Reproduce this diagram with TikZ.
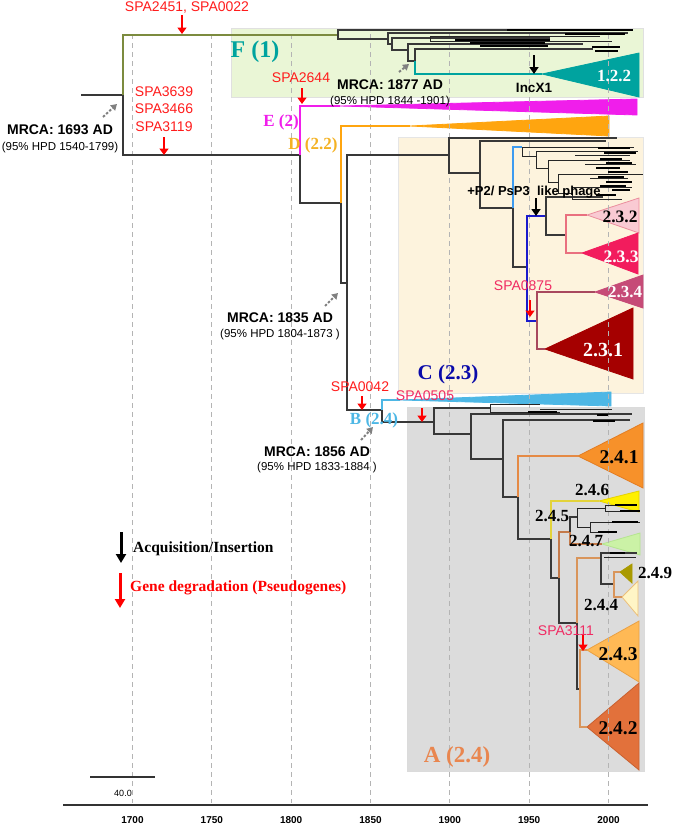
\documentclass[tikz,border=0pt]{standalone}
\usepackage{fontspec}
\setmainfont{Liberation Serif}
\setsansfont{Liberation Sans}
\usetikzlibrary{arrows.meta,positioning}

\definecolor{boxgreen}{HTML}{EAF6D6}
\definecolor{boxcream}{HTML}{FDF3DD}
\definecolor{boxgrey}{HTML}{DCDCDC}
\definecolor{fteal}{HTML}{00A39F}
\definecolor{emag}{HTML}{F01EEB}
\definecolor{dgold}{HTML}{F4B223}
\definecolor{dorange}{HTML}{FFA50F}
\definecolor{cblue}{HTML}{0A0AAA}
\definecolor{bblue}{HTML}{4DB7E5}
\definecolor{aorange}{HTML}{E9864F}
\definecolor{spared}{HTML}{FF1C1C}
\definecolor{spapink}{HTML}{F02A62}
\definecolor{olivegreen}{HTML}{7C8B3F}
\definecolor{ltblue}{HTML}{3D9BF0}
\definecolor{dkblue}{HTML}{1A1ACC}
\definecolor{pinkline}{HTML}{E9707F}
\definecolor{maroonline}{HTML}{A8485E}
\definecolor{tanline}{HTML}{D9955B}
\definecolor{yelline}{HTML}{E3D33A}
\definecolor{brownline}{HTML}{C47A4A}
\definecolor{orangeline}{HTML}{E58A45}
\definecolor{gridgrey}{HTML}{B4B4B4}
\definecolor{tpinklt}{HTML}{F9CAD3}
\definecolor{tpinkltd}{HTML}{EB8E9E}
\definecolor{tpink}{HTML}{F21C5D}
\definecolor{trose}{HTML}{C64B77}
\definecolor{tdred}{HTML}{A50000}
\definecolor{torange}{HTML}{F7912A}
\definecolor{torangeb}{HTML}{E37C22}
\definecolor{tyellow}{HTML}{FFF000}
\definecolor{tyellowb}{HTML}{E6D200}
\definecolor{tgreen}{HTML}{CBF2A6}
\definecolor{tgreenb}{HTML}{B5E590}
\definecolor{tolive}{HTML}{A99A00}
\definecolor{tcream}{HTML}{FFF5C6}
\definecolor{tcreamb}{HTML}{EBBF7C}
\definecolor{tlorange}{HTML}{FFB955}
\definecolor{tlorangeb}{HTML}{E9A043}
\definecolor{tburnt}{HTML}{E2713B}
\definecolor{tburntb}{HTML}{C9602F}

\newcommand{\fsz}[1]{\fontsize{#1}{#1}\selectfont}

\begin{document}
\begin{tikzpicture}[x=1pt,y=-1pt,
  branch/.style={line width=1.1pt,draw=black!78},
  olivebranch/.style={branch,draw=olivegreen},
  ebranch/.style={branch,draw=emag},
  dbranch/.style={branch,draw=dorange},
  bbranch/.style={branch,draw=bblue},
  ltbranch/.style={branch,draw=ltblue},
  dkbranch/.style={branch,draw=dkblue},
  pinkbranch/.style={branch,draw=pinkline},
  maroonbranch/.style={branch,draw=maroonline},
  tealbranch/.style={branch,draw=fteal},
  orangebranch/.style={branch,draw=orangeline},
  yellowbranch/.style={branch,draw=yelline},
  brownbranch/.style={branch,draw=brownline},
  tanbranch/.style={branch,draw=tanline},
  twig/.style={line width=0.8pt,draw=black!85},
  cluster/.style={line width=2.2pt,draw=black},
  cladebox/.style={line width=0.8pt},
  cladetri/.style={line width=0.8pt},
  gridline/.style={draw=gridgrey,line width=0.9pt,dash pattern=on 5pt off 4pt},
  axisline/.style={draw=black!80,line width=1.3pt},
  redarrow/.style={draw=red,line width=2.6pt,-{Triangle[width=9pt,length=6.5pt]}},
  blackarrow/.style={draw=black,line width=2.4pt,-{Triangle[width=9pt,length=7pt]}},
  mrcaarrow/.style={draw=gray,line width=2pt,dash pattern=on 2.5pt off 1.8pt,-{Triangle[width=7pt,length=6pt]}},
  txt/.style={inner sep=0pt},
  spalabel/.style={txt,font=\sffamily\fsz{14},text=spared},
  spapinklabel/.style={spalabel,text=spapink},
  mrcatext/.style={txt,font=\sffamily\bfseries\fsz{14}},
  hpdtext/.style={txt,font=\sffamily\fsz{11.5}},
  groupname/.style={txt,font=\bfseries\fsz{#1}},
  cladename/.style={txt,font=\bfseries\fsz{#1}},
  yearlabel/.style={txt,font=\sffamily\bfseries\fsz{10}}]
\useasboundingbox (0,0) rectangle (674,827);

% Clade boxes
\filldraw[cladebox,fill=boxgreen,draw=black!12] (231,28) rectangle (643,97);
\filldraw[cladebox,fill=boxcream,draw=black!10] (398,137) rectangle (643,393);
\filldraw[cladebox,fill=boxgrey,draw=black!14] (407,407) rectangle (644,771);

% Collapsed clades
\filldraw[cladetri,fill=fteal,draw=fteal] (542,74) -- (639,53) -- (639,97) -- cycle;
\filldraw[cladetri,fill=emag,draw=emag] (340,106) -- (637,99) -- (637,115) -- cycle;
\filldraw[cladetri,fill=dorange,draw=dorange] (410,126) -- (609,116) -- (609,136) -- cycle;
\filldraw[cladetri,fill=bblue,draw=bblue] (400,400) -- (611,392) -- (611,406) -- cycle;
\filldraw[cladetri,fill=tpinklt,draw=tpinkltd] (587,215) -- (639,198) -- (639,233) -- cycle;
\filldraw[cladetri,fill=tpink,draw=tpink] (582,253) -- (638,233) -- (638,274) -- cycle;
\filldraw[cladetri,fill=trose,draw=trose] (595,292) -- (643,275) -- (643,308) -- cycle;
\filldraw[cladetri,fill=tdred,draw=tdred] (545,349) -- (633,308) -- (633,379) -- cycle;
\filldraw[cladetri,fill=torange,draw=torangeb] (578,456) -- (643,423) -- (643,488) -- cycle;
\filldraw[cladetri,fill=tyellow,draw=tyellowb] (599,501) -- (639,491) -- (639,512) -- cycle;
\filldraw[cladetri,fill=tgreen,draw=tgreenb] (602,544) -- (640,533) -- (640,555) -- cycle;
\filldraw[cladetri,fill=tolive,draw=tolive] (620,572) -- (632,564) -- (632,583) -- cycle;
\filldraw[cladetri,fill=tcream,draw=tcreamb] (622,597) -- (638,581) -- (638,616) -- cycle;
\filldraw[cladetri,fill=tlorange,draw=tlorangeb] (587,650) -- (639,621) -- (639,682) -- cycle;
\filldraw[cladetri,fill=tburnt,draw=tburntb] (587,727) -- (639,683) -- (639,770) -- cycle;

% Time grid
\foreach \yr in {1700,1750,...,2000}
\draw[gridline] ({132.5+(\yr-1700)*1.5867},34) -- ({132.5+(\yr-1700)*1.5867},803);

% Backbone
\coordinate (rootstub) at (81,95);
\coordinate (root) at (123,95);
\coordinate (f0) at (338,35);
\coordinate (n300) at (300,155);
\coordinate (etip) at (340,106);
\coordinate (n341) at (341,203);
\coordinate (dtip) at (410,126);
\coordinate (n347) at (347,283);
\coordinate (c0) at (449,155);
\coordinate (n382) at (382,410);
\coordinate (btip) at (400,400);
\coordinate (a0) at (434,422);

\draw[branch] (rootstub) -- (root);
\draw[olivebranch] (root) |- (f0);
\draw[branch] (root) |- (n300);
\draw[ebranch] (n300) |- (etip);
\draw[branch] (n300) |- (n341);
\draw[dbranch] (n341) |- (dtip);
\draw[branch] (n341) |- (n347);
\draw[branch] (n347) |- (c0);
\draw[branch] (n347) |- (n382);
\draw[bbranch] (n382) |- (btip);
\draw[branch] (n382) |- (a0);

% F (1)
\coordinate (f0t) at (633,30);
\coordinate (f1) at (388,39);
\coordinate (f1t) at (628,33);
\coordinate (f2) at (392,44);
\coordinate (f2t) at (550,38);
\coordinate (f3) at (408,50);
\coordinate (f3t) at (583,44);
\coordinate (f4) at (415,61);
\coordinate (f4t) at (593,49);
\coordinate (t122) at (542,74);
\draw[branch] (f0) |- (f0t);
\draw[branch] (f0) |- (f1);
\draw[branch] (f1) |- (f1t);
\draw[branch] (f1) |- (f2);
\draw[branch] (f2) |- (f2t);
\draw[branch] (f2) |- (f3);
\draw[branch] (f3) |- (f3t);
\draw[branch] (f3) |- (f4);
\draw[branch] (f4) |- (f4t);
\draw[tealbranch] (f4) |- (t122);
\draw[twig] (430,36) -- (430,41);
\draw[twig] (430,36) -- (600,36);
\draw[twig] (430,41) -- (612,41);
\foreach \ya/\xa/\xb in {30/507/633,34/565/625,40/455/550,43/470/545,46/480/548,47/592/620,51/595/618}
\draw[cluster] (\xa,\ya) -- (\xb,\ya);

% C (2.3)
\coordinate (ctop) at (617,138);
\coordinate (c1) at (480,173);
\coordinate (c1t) at (606,141);
\coordinate (c2) at (513,208);
\coordinate (c2t) at (522,147);
\coordinate (c3) at (527,267);
\coordinate (c4) at (546,216);
\coordinate (c4t) at (603,197);
\coordinate (c5) at (566,235);
\coordinate (t232) at (587,215);
\coordinate (t233) at (582,253);
\coordinate (c6) at (537,321);
\coordinate (t234) at (595,292);
\coordinate (t231) at (545,349);
\draw[branch] (c0) |- (ctop);
\draw[branch] (c0) |- (c1);
\draw[branch] (c1) |- (c1t);
\draw[branch] (c1) |- (c2);
\draw[ltbranch] (c2) |- (c2t);
\draw[branch] (c2) |- (c3);
\draw[dkbranch] (c3) |- (c4);
\draw[dkbranch] (c3) |- (c6);
\draw[branch] (c4) |- (c4t);
\draw[branch] (c4) |- (c5);
\draw[pinkbranch] (c5) |- (t232);
\draw[pinkbranch] (c5) |- (t233);
\draw[maroonbranch] (c6) |- (t234);
\draw[maroonbranch] (c6) |- (t231);
\foreach \xa/\ya/\yb in {522/147/156,536/151/168,548/160/182,558/174/193,572/187/199}
\draw[twig] (\xa,\ya) -- (\xa,\yb);
\foreach \ya/\xa/\xb in {147/522/634,156/522/536,151/536/638,168/536/548,160/548/630,182/548/558,174/558/643,193/558/572,187/572/632,199/572/622,164/585/636,178/590/628,155/575/630}
\draw[twig] (\xa,\ya) -- (\xb,\ya);
\foreach \ya/\xa/\xb in {148/598/630,153/604/636,159/600/622,163/606/632,168/596/620,172/608/628,177/598/624,182/606/632,186/600/626,190/612/630,195/596/616}
\draw[cluster] (\xa,\ya) -- (\xb,\ya);

% A (2.4)
\coordinate (a0t) at (490,408);
\coordinate (a1) at (471,434);
\coordinate (a1t) at (632,414);
\coordinate (a2) at (503,459);
\coordinate (a2t) at (630,420);
\coordinate (a3) at (518,497);
\coordinate (t241) at (578,456);
\coordinate (a4) at (551,539);
\coordinate (t246) at (599,501);
\coordinate (a5) at (559,578);
\coordinate (a6) at (570,532);
\coordinate (a6t) at (577,517);
\coordinate (t247) at (602,544);
\coordinate (a7) at (577,623);
\coordinate (a8) at (601,558);
\coordinate (a8t) at (637,553);
\coordinate (a9) at (614,584);
\coordinate (t249) at (620,572);
\coordinate (t244) at (622,597);
\coordinate (a10) at (580,689);
\coordinate (t243) at (587,650);
\coordinate (t242) at (587,727);
\draw[branch] (a0) |- (a0t);
\draw[branch] (a0) |- (a1);
\draw[branch] (a1) |- (a1t);
\draw[branch] (a1) |- (a2);
\draw[branch] (a2) |- (a2t);
\draw[branch] (a2) |- (a3);
\draw[orangebranch] (a3) |- (t241);
\draw[branch] (a3) |- (a4);
\draw[yellowbranch] (a4) |- (t246);
\draw[branch] (a4) |- (a5);
\draw[brownbranch] (a5) |- (a6);
\draw[branch] (a5) |- (a7);
\draw[branch] (a6) |- (a6t);
\draw[brownbranch] (a6) |- (t247);
\draw[tanbranch] (a7) |- (a8);
\draw[branch] (a7) |- (a10);
\draw[branch] (a8) |- (a8t);
\draw[branch] (a8) |- (a9);
\draw[tanbranch] (a9) |- (t249);
\draw[tanbranch] (a9) |- (t244);
\draw[tanbranch] (a10) |- (t243);
\draw[tanbranch] (a10) |- (t242);
\foreach \xa/\ya/\yb in {490/404/412,577/508/527,605/505/511,590/522/532}
\draw[twig] (\xa,\ya) -- (\xa,\yb);
\foreach \ya/\xa/\xb in {404/490/540,412/490/560,409/540/612,508/577/605,505/605/637,511/605/640,527/577/590,522/590/640,532/590/617,557/604/636}
\draw[twig] (\xa,\ya) -- (\xb,\ya);
\foreach \ya/\xa/\xb in {412/528/557,415/597/608,421/593/615,505/615/637,511/620/640,522/612/638,532/598/617,553/610/625}
\draw[cluster] (\xa,\ya) -- (\xb,\ya);

% Gene degradation
\node[spalabel] (spa2451) at (187,8) {SPA2451, SPA0022};
\coordinate (spa2451a) at (182,15);
\coordinate (spa2451b) at (182,34);
\draw[redarrow] (spa2451a) -- (spa2451b);
\node[spalabel,align=center,font=\sffamily\fontsize{14}{17.5}\selectfont] (spa3639) at (164,109) {SPA3639\\SPA3466\\SPA3119};
\coordinate (spa3119a) at (164,137);
\coordinate (spa3119b) at (164,155);
\draw[redarrow] (spa3119a) -- (spa3119b);
\node[spalabel] (spa2644) at (301,78) {SPA2644};
\coordinate (spa2644a) at (302,88);
\coordinate (spa2644b) at (302,104);
\draw[redarrow] (spa2644a) -- (spa2644b);
\node[spapinklabel] (spa0875) at (523,286) {SPA0875};
\coordinate (spa0875a) at (530,300);
\coordinate (spa0875b) at (530,317);
\draw[redarrow] (spa0875a) -- (spa0875b);
\node[spalabel] (spa0042) at (360,387) {SPA0042};
\coordinate (spa0042a) at (362,396);
\coordinate (spa0042b) at (362,410);
\draw[redarrow] (spa0042a) -- (spa0042b);
\node[spapinklabel] (spa0505) at (425,396) {SPA0505};
\coordinate (spa0505a) at (422,408);
\coordinate (spa0505b) at (422,422);
\draw[redarrow] (spa0505a) -- (spa0505b);
\node[spapinklabel] (spa3111) at (566,631) {SPA3111};
\coordinate (spa3111a) at (583,635);
\coordinate (spa3111b) at (583,651);
\draw[redarrow] (spa3111a) -- (spa3111b);

% Acquisitions
\node[txt,font=\sffamily\bfseries\fsz{13.5}] (incx1) at (534,88) {IncX1};
\coordinate (incx1a) at (534,55);
\coordinate (incx1b) at (534,74);
\draw[blackarrow] (incx1a) -- (incx1b);
\node[txt,font=\sffamily\bfseries\fsz{13}] (phage) at (534,192) {+P2/ PsP3\ \ like phage};
\coordinate (phagea) at (536,198);
\coordinate (phageb) at (536,216);
\draw[blackarrow] (phagea) -- (phageb);

% MRCA dates
\node[mrcatext] (mrca1693) at (60,130) {MRCA: 1693 AD};
\node[hpdtext,below=7pt of mrca1693] (hpd1693) {(95\% HPD 1540-1799)};
\coordinate (m1693a) at (103,117);
\coordinate (m1693b) at (117,104);
\draw[mrcaarrow] (m1693a) -- (m1693b);
\node[mrcatext] (mrca1877) at (390,85) {MRCA: 1877 AD};
\node[hpdtext,below=6pt of mrca1877] (hpd1877) {(95\% HPD 1844 -1901)};
\coordinate (m1877a) at (399,72);
\coordinate (m1877b) at (409,64);
\draw[mrcaarrow] (m1877a) -- (m1877b);
\node[mrcatext] (mrca1835) at (280,318) {MRCA: 1835 AD};
\node[hpdtext,below=6pt of mrca1835] (hpd1835) {(95\% HPD 1804-1873 )};
\coordinate (m1835a) at (325,306);
\coordinate (m1835b) at (338,293);
\draw[mrcaarrow] (m1835a) -- (m1835b);
\node[mrcatext] (mrca1856) at (317,452) {MRCA: 1856 AD};
\node[hpdtext,below=5pt of mrca1856] (hpd1856) {(95\% HPD 1833-1884 )};
\coordinate (m1856a) at (361,440);
\coordinate (m1856b) at (373,427);
\draw[mrcaarrow] (m1856a) -- (m1856b);

% Lineage names
\node[groupname=24,text=fteal] (linf) at (255,52) {F (1)};
\node[groupname=17,text=emag] (line) at (281,122) {E (2)};
\node[groupname=17,text=dgold] (lind) at (313,145) {D (2.2)};
\node[groupname=21,text=cblue] (linc) at (448,374) {C (2.3)};
\node[groupname=17,text=bblue] (linb) at (374,420) {B (2.4)};
\node[groupname=23,text=aorange] (lina) at (457,757) {A (2.4)};

% Clade names
\node[cladename=17,text=white] (k122) at (614,76) {1.2.2};
\node[cladename=17.5] (k232) at (620,217) {2.3.2};
\node[cladename=17.5,text=white] (k233) at (621,257) {2.3.3};
\node[cladename=17,text=white] (k234) at (625,292) {2.3.4};
\node[cladename=20,text=white] (k231) at (603,350) {2.3.1};
\node[cladename=19.5] (k241) at (619,457) {2.4.1};
\node[cladename=17] (k246) at (592,490) {2.4.6};
\node[cladename=17] (k245) at (552,516) {2.4.5};
\node[cladename=17] (k247) at (586,541) {2.4.7};
\node[cladename=17] (k249) at (655,573) {2.4.9};
\node[cladename=17] (k244) at (601,605) {2.4.4};
\node[cladename=19.5] (k243) at (618,654) {2.4.3};
\node[cladename=19.5] (k242) at (618,728) {2.4.2};

% Legend
\coordinate (legacqa) at (121,532);
\coordinate (legacqb) at (121,563);
\draw[draw=black,line width=3pt,-{Triangle[width=10pt,length=9pt]}] (legacqa) -- (legacqb);
\node[txt,anchor=west,font=\bfseries\fsz{15.5}] (legacq) at (133,549) {Acquisition/Insertion};
\coordinate (legdega) at (120,573);
\coordinate (legdegb) at (120,608);
\draw[draw=red,line width=3pt,-{Triangle[width=10pt,length=9pt]}] (legdega) -- (legdegb);
\node[txt,anchor=west,font=\bfseries\fsz{15.5},text=red] (legdeg) at (130,588) {Gene degradation (Pseudogenes)};

% Scale bar and time axis
\coordinate (sbl) at (90,777);
\coordinate (sbr) at (155,777);
\draw[line width=1.1pt,black!80] (sbl) -- (sbr);
\node[txt,font=\sffamily\fsz{9}] (sbval) at (123,793) {40.0};
\coordinate (axl) at (63,805);
\coordinate (axr) at (648,805);
\draw[axisline] (axl) -- (axr);
\foreach \yr in {1700,1750,...,2000}
\node[yearlabel] (yr\yr) at ({132.5+(\yr-1700)*1.5867},820) {\yr};

\end{tikzpicture}
\end{document}
